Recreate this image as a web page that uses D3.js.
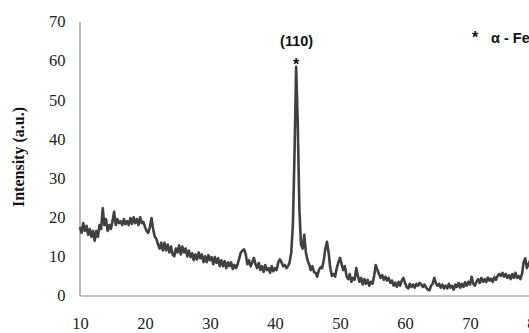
<!DOCTYPE html>
<html>
<head>
<meta charset="utf-8">
<script src="https://cdn.jsdelivr.net/npm/d3@7"></script>
<style>
  body { margin: 0; background: #fff; }
  svg { display: block; }
</style>
</head>
<body>
<div id="chart"></div>
<script>
// 2-theta runs 10..80 in 0.25 steps, one row of intensity per degree
var thetaStart = 10, thetaEnd = 80, thetaStep = 0.25;
var intensity = [
    17.5, 16, 18.5, 16.5,     // 10
    17.8, 15.5, 17, 15,       // 11
    16.5, 14, 16.5, 15,       // 12
    18, 17, 22.3, 18,         // 13
    19.5, 16.5, 18, 17,       // 14
    19, 21.4, 18, 19.5,       // 15
    18.5, 19, 18, 19.5,       // 16
    18.2, 19, 18, 19.8,       // 17
    18.3, 20, 18.5, 19.5,     // 18
    18, 20, 18.5, 18.8,       // 19
    17.5, 16.5, 16, 17.5,     // 20
    19.8, 17, 15, 14.5,       // 21
    13, 12, 13.5, 11.5,       // 22
    13.5, 11.5, 13, 11,       // 23
    12.5, 10.5, 10, 12,       // 24
    11, 12.8, 10.5, 12.5,     // 25
    11, 12, 10, 11.5,         // 26
    9.8, 10.8, 9, 10.5,       // 27
    9.2, 11, 9.5, 10.5,       // 28
    8.5, 10, 8.5, 10.3,       // 29
    9, 9.8, 8, 9.8,           // 30
    8.3, 9.5, 7.5, 9,         // 31
    7.5, 8.8, 7, 8.5,         // 32
    7.5, 8.5, 6.8, 7.8,       // 33
    7, 8, 9.5, 11,            // 34
    11.5, 11.8, 10.5, 8,      // 35
    9, 7.5, 8.5, 9.6,         // 36
    8, 7, 8.3, 6.5,           // 37
    7.5, 6, 7.8, 6.5,         // 38
    7, 5.8, 7.5, 6.2,         // 39
    7, 6.5, 8.5, 9.2,         // 40
    8.5, 7.5, 7.8, 7,         // 41
    7.5, 8.5, 11, 18,         // 42
    36, 58.4, 44, 22,         // 43
    13, 12, 15.5, 11,         // 44
    9, 8, 6.5, 7.5,           // 45
    6, 5.8, 4.8, 6.5,         // 46
    7.2, 7, 9, 12,            // 47
    13.7, 11, 7, 5,           // 48
    5.5, 4.8, 7, 8.5,         // 49
    9.6, 8, 6.5, 7.5,         // 50
    5, 4.2, 5.5, 3.5,         // 51
    4.5, 4, 7, 5,             // 52
    3.5, 4.5, 2.8, 4.2,       // 53
    3, 4, 2.5, 3.5,           // 54
    3, 5, 7.8, 6.5,           // 55
    5.5, 4.5, 5.2, 4,         // 56
    4.8, 3.8, 4.5, 3.2,       // 57
    3.8, 2.5, 3.3, 2.2,       // 58
    3.5, 2.5, 3.8, 4.5,       // 59
    3.2, 2.2, 1.8, 3,         // 60
    2.2, 2.8, 2, 3,           // 61
    2.5, 3.2, 2.8, 2.2,       // 62
    2.8, 2, 1.5, 1.3,         // 63
    2.5, 3, 4.5, 3.2,         // 64
    2.5, 3, 2, 2.8,           // 65
    1.8, 2.5, 1.8, 3,         // 66
    2, 2.5, 1.5, 2.8,         // 67
    2.2, 3.2, 2, 3,           // 68
    2.2, 3.4, 2.5, 3.5,       // 69
    2.8, 4.8, 3, 2.5,         // 70
    3.5, 4.2, 3.2, 4.5,       // 71
    3.5, 4.2, 3.4, 4.6,       // 72
    3.8, 4.3, 3.5, 4.7,       // 73
    4, 5, 5.5, 5,             // 74
    5.8, 4.8, 5.5, 4.5,       // 75
    5.2, 4.2, 5.5, 4.5,       // 76
    5.8, 4.5, 5, 4.2,         // 77
    5.5, 8.5, 9.5, 7,         // 78
    8, 9, 8.5, 9,             // 79
    8.5                       // 80
];
var xTicks = [10, 20, 30, 40, 50, 60, 70, 80];
var yTicks = [0, 10, 20, 30, 40, 50, 60, 70];
var peakLabel = "(110)", peakTheta = 43.25, peakValue = 58.4;
var legendText = "\u03b1 - Fe";

var width = 529, height = 333;

var svg = d3.select("#chart")
    .append("svg")
    .attr("width", width)
    .attr("height", height);

var x = d3.scaleLinear().domain([10, 80]).range([80, 535]);
var y = d3.scaleLinear().domain([0, 70]).range([295.5, 21.5]);

var data = intensity.map(function (v, i) {
    return { t: thetaStart + i * thetaStep, v: v };
});

// axes: plain grey lines, no tick marks
var xAxis = svg.append("g")
    .attr("transform", "translate(0," + y(0) + ")")
    .call(d3.axisBottom(x).tickValues(xTicks).tickSize(0).tickPadding(22));
var yAxis = svg.append("g")
    .attr("transform", "translate(" + 79.5 + ",0)")
    .call(d3.axisLeft(y).tickValues(yTicks).tickSize(0).tickPadding(14));

[xAxis, yAxis].forEach(function (a) {
    a.select(".domain").attr("stroke", "#8a8a8a").attr("stroke-width", 1.2);
    a.selectAll("text")
        .attr("font-family", "'Liberation Serif', 'Times New Roman', serif")
        .attr("font-size", 16.5)
        .attr("fill", "#222");
});

// y title
svg.append("text")
    .attr("transform", "translate(24,157) rotate(-90)")
    .attr("text-anchor", "middle")
    .attr("font-family", "'Liberation Serif', 'Times New Roman', serif")
    .attr("font-weight", "bold")
    .attr("font-size", 16)
    .attr("fill", "#111")
    .text("Intensity (a.u.)");

// pattern
var line = d3.line()
    .x(function (d) { return x(d.t); })
    .y(function (d) { return y(d.v); });

svg.append("path")
    .datum(data)
    .attr("d", line)
    .attr("fill", "none")
    .attr("stroke", "#404040")
    .attr("stroke-width", 2.6)
    .attr("stroke-linejoin", "round");

// peak annotation
var sans = "'Liberation Sans', Arial, sans-serif";
svg.append("text")
    .attr("x", x(peakTheta) + 0.5)
    .attr("y", 46)
    .attr("text-anchor", "middle")
    .attr("font-family", sans)
    .attr("font-weight", "bold")
    .attr("font-size", 14.5)
    .attr("fill", "#111")
    .text(peakLabel);
svg.append("text")
    .attr("x", x(peakTheta))
    .attr("y", 70)
    .attr("text-anchor", "middle")
    .attr("font-family", sans)
    .attr("font-weight", "bold")
    .attr("font-size", 16)
    .attr("fill", "#111")
    .text("*");

// legend
svg.append("text")
    .attr("x", 472)
    .attr("y", 43)
    .attr("font-family", sans)
    .attr("font-weight", "bold")
    .attr("font-size", 16)
    .attr("fill", "#111")
    .text("*");
svg.append("text")
    .attr("x", 491)
    .attr("y", 43)
    .attr("font-family", sans)
    .attr("font-weight", "bold")
    .attr("font-size", 14.5)
    .attr("fill", "#111")
    .text(legendText);
</script>
</body>
</html>
